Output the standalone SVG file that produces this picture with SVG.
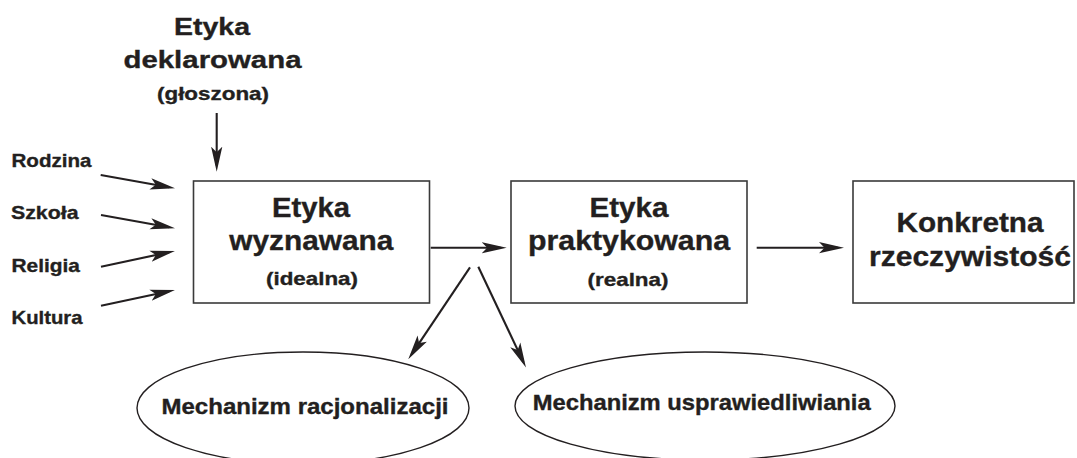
<svg xmlns="http://www.w3.org/2000/svg" width="1077" height="458" viewBox="0 0 1077 458">
  <style>
    text { font-family: "Liberation Sans", Arial, Helvetica, sans-serif; font-weight: bold; fill: #231f20; stroke: #231f20; stroke-width: 0.35; }
    .mid { text-anchor: middle; }
    .title { font-size: 24.5px; }
    .big { font-size: 28px; }
    .sub { font-size: 18.5px; }
    .lbl { font-size: 18.5px; }
    .mech { font-size: 21.5px; }
    .box { fill: #ffffff; stroke: #3a3a3a; stroke-width: 1.6; }
    .oval { fill: #ffffff; stroke: #231f20; stroke-width: 1.4; }
    .arrow { fill: none; stroke: #231f20; stroke-width: 2.1; marker-end: url(#head); }
  </style>
  <defs>
    <marker id="head" viewBox="0 0 25 12" refX="19" refY="6" markerWidth="25" markerHeight="12" markerUnits="userSpaceOnUse" orient="auto">
      <path d="M0,0.4 L25,6 L0,11.6 L5.5,6 Z" fill="#231f20"/>
    </marker>
  </defs>
  <rect width="1077" height="458" fill="#ffffff"/>

  <!-- declared ethics heading -->
  <g id="etyka-deklarowana">
    <text class="mid title" x="212" y="34.5" textLength="76" lengthAdjust="spacingAndGlyphs">Etyka</text>
    <text class="mid title" x="212.5" y="68" textLength="178" lengthAdjust="spacingAndGlyphs">deklarowana</text>
    <text class="mid sub" x="213" y="100" textLength="112" lengthAdjust="spacingAndGlyphs">(głoszona)</text>
  </g>

  <!-- influences -->
  <g id="rodzina"><text class="lbl" x="11.5" y="166.5" textLength="80" lengthAdjust="spacingAndGlyphs">Rodzina</text></g>
  <g id="szkola"><text class="lbl" x="11" y="219" textLength="67.5" lengthAdjust="spacingAndGlyphs">Szkoła</text></g>
  <g id="religia"><text class="lbl" x="11.5" y="271.5" textLength="68.5" lengthAdjust="spacingAndGlyphs">Religia</text></g>
  <g id="kultura"><text class="lbl" x="11.5" y="324" textLength="71" lengthAdjust="spacingAndGlyphs">Kultura</text></g>

  <!-- professed ethics -->
  <g id="etyka-wyznawana">
    <rect class="box" x="193.5" y="181" width="236" height="122"/>
    <text class="mid big" x="311" y="217" textLength="78" lengthAdjust="spacingAndGlyphs">Etyka</text>
    <text class="mid big" x="311.3" y="250" textLength="164" lengthAdjust="spacingAndGlyphs">wyznawana</text>
    <text class="mid sub" x="312" y="284.5" textLength="92" lengthAdjust="spacingAndGlyphs">(idealna)</text>
  </g>

  <!-- practised ethics -->
  <g id="etyka-praktykowana">
    <rect class="box" x="511" y="181" width="236" height="122"/>
    <text class="mid big" x="629" y="216.5" textLength="79" lengthAdjust="spacingAndGlyphs">Etyka</text>
    <text class="mid big" x="629" y="250" textLength="202" lengthAdjust="spacingAndGlyphs">praktykowana</text>
    <text class="mid sub" x="628" y="286" textLength="81" lengthAdjust="spacingAndGlyphs">(realna)</text>
  </g>

  <!-- concrete reality -->
  <g id="konkretna-rzeczywistosc">
    <rect class="box" x="853" y="181" width="221" height="122"/>
    <text class="mid big" x="970" y="231.5" textLength="147" lengthAdjust="spacingAndGlyphs">Konkretna</text>
    <text class="mid big" x="970" y="266" textLength="202" lengthAdjust="spacingAndGlyphs">rzeczywistość</text>
  </g>

  <!-- defence mechanisms -->
  <g id="mechanizm-racjonalizacji">
    <ellipse class="oval" cx="303" cy="408" rx="166" ry="56"/>
    <text class="mid mech" x="305" y="414" textLength="287" lengthAdjust="spacingAndGlyphs">Mechanizm racjonalizacji</text>
  </g>
  <g id="mechanizm-usprawiedliwiania">
    <ellipse class="oval" cx="705" cy="406" rx="190" ry="54"/>
    <text class="mid mech" x="701.7" y="410" textLength="338" lengthAdjust="spacingAndGlyphs">Mechanizm usprawiedliwiania</text>
  </g>

  <!-- connectors -->
  <g id="connectors">
    <line class="arrow" x1="216.7" y1="113" x2="216.7" y2="165.7"/>
    <line class="arrow" x1="100.7" y1="175" x2="169.1" y2="187.2"/>
    <line class="arrow" x1="101" y1="215" x2="169.1" y2="227.2"/>
    <line class="arrow" x1="101" y1="266.7" x2="169.1" y2="252.2"/>
    <line class="arrow" x1="101" y1="305.7" x2="169.1" y2="291.2"/>
    <line class="arrow" x1="430.7" y1="247.7" x2="500.7" y2="247.7"/>
    <line class="arrow" x1="756.7" y1="247.7" x2="838" y2="247.7"/>
    <line class="arrow" x1="470" y1="267.3" x2="411.6" y2="354.3"/>
    <line class="arrow" x1="478.3" y1="266.7" x2="523.4" y2="362.1"/>
  </g>
</svg>
